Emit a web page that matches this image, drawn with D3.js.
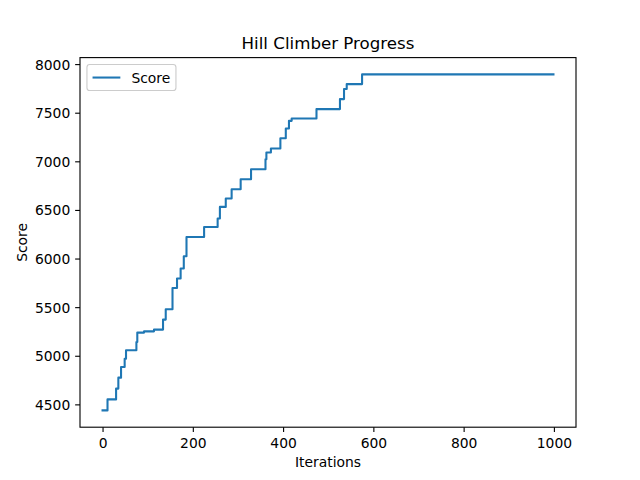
<!DOCTYPE html>
<html>
<head>
<meta charset="utf-8">
<script src="https://cdn.jsdelivr.net/npm/d3@7"></script>
<style>
  html, body { margin: 0; padding: 0; background: #fff; }
  svg { display: block; }
  text { font-family: "DejaVu Sans", sans-serif; fill: #000; }
</style>
</head>
<body>
<svg id="chart" width="640" height="480"></svg>
<script>
// Change points of the hill climber's best score (iteration at which a new best was found)
const iterations = [0, 11, 30, 35, 41, 49, 52, 75, 77, 92, 114, 134, 140, 155, 165, 173, 180, 186,
  225, 255, 260, 273, 286, 306, 329, 361, 363, 373, 394, 406, 413, 419, 474, 526, 535, 541, 575];
const scores = [4438, 4551, 4662, 4775, 4884, 4970, 5056, 5141, 5238, 5251, 5269, 5372, 5478, 5697,
  5794, 5897, 6024, 6222, 6325, 6412, 6531, 6617, 6713, 6816, 6919, 7022, 7091, 7132, 7238, 7338,
  7416, 7441, 7537, 7640, 7743, 7794, 7894];
const lastIteration = 999;
const xTicks = [0, 200, 400, 600, 800, 1000];
const yTicks = [4500, 5000, 5500, 6000, 6500, 7000, 7500, 8000];
const titleText = "Hill Climber Progress";
const xLabel = "Iterations";
const yLabel = "Score";
const seriesName = "Score";

(function () {
const W = 640, H = 480;
const pL = 80, pR = 576, pT = 57.6, pB = 427.2;
const fs = 13.89;
const tickLen = 4.86, pad = 4.86;

const pts = iterations.map((it, i) => ({x: it, y: scores[i]}));
pts.push({x: lastIteration, y: scores[scores.length - 1]});

const xMin = d3.min(pts, d => d.x), xMax = d3.max(pts, d => d.x);
const yMin = d3.min(pts, d => d.y), yMax = d3.max(pts, d => d.y);
const xm = (xMax - xMin) * 0.05, ym = (yMax - yMin) * 0.05;

const x = d3.scaleLinear().domain([xMin - xm, xMax + xm]).range([pL, pR]);
const y = d3.scaleLinear().domain([yMin - ym, yMax + ym]).range([pB, pT]);

const svg = d3.select("#chart");
svg.append("rect").attr("width", W).attr("height", H).attr("fill", "#fff");

// line
const line = d3.line().x(d => x(d.x)).y(d => y(d.y)).curve(d3.curveStepAfter);
svg.append("path").datum(pts)
  .attr("d", line)
  .attr("fill", "none")
  .attr("stroke", "#1f77b4")
  .attr("stroke-width", 2.08)
  .attr("stroke-linejoin", "round")
  .attr("stroke-linecap", "square");

// axes via d3
const xAxis = d3.axisBottom(x).tickValues(xTicks).tickSize(tickLen).tickPadding(pad).tickFormat(d3.format("d"));
const yAxis = d3.axisLeft(y).tickValues(yTicks).tickSize(tickLen).tickPadding(pad).tickFormat(d3.format("d"));

const gx = svg.append("g").attr("transform", `translate(0,${pB})`).call(xAxis);
const gy = svg.append("g").attr("transform", `translate(${pL},0)`).call(yAxis);
[gx, gy].forEach(g => {
  g.select(".domain").remove();
  g.selectAll(".tick line").attr("stroke", "#000").attr("stroke-width", 1.11);
  g.selectAll(".tick text")
    .attr("font-family", "DejaVu Sans, sans-serif")
    .attr("font-size", fs)
    .attr("fill", "#000");
});
gx.selectAll(".tick text").attr("dy", null).attr("y", tickLen + pad + 10.6);
gy.selectAll(".tick text").attr("dy", "0.36em");

// spines
svg.append("rect")
  .attr("x", pL).attr("y", pT)
  .attr("width", pR - pL).attr("height", pB - pT)
  .attr("fill", "none").attr("stroke", "#000").attr("stroke-width", 1.11);

// title & labels
svg.append("text").attr("x", (pL + pR) / 2).attr("y", 49.3)
  .attr("text-anchor", "middle").attr("font-size", 16.67).text(titleText);
svg.append("text").attr("x", (pL + pR) / 2).attr("y", 466.5)
  .attr("text-anchor", "middle").attr("font-size", fs).text(xLabel);
svg.append("text").attr("transform", `translate(26.5,${(pT + pB) / 2}) rotate(-90)`)
  .attr("text-anchor", "middle").attr("font-size", fs).text(yLabel);

// legend
const lg = svg.append("g");
const lx = pL + 0.5 * fs, ly = pT + 0.5 * fs;
lg.append("rect").attr("x", lx).attr("y", ly)
  .attr("width", 89).attr("height", 26)
  .attr("rx", 2.8).attr("ry", 2.8)
  .attr("fill", "#fff").attr("fill-opacity", 0.8)
  .attr("stroke", "#cccccc").attr("stroke-width", 1.11);
lg.append("line")
  .attr("x1", lx + 5.6).attr("x2", lx + 5.6 + 27.8)
  .attr("y1", ly + 13).attr("y2", ly + 13)
  .attr("stroke", "#1f77b4").attr("stroke-width", 2.08);
lg.append("text").attr("x", lx + 5.6 + 27.8 + 11.1).attr("y", ly + 13)
  .attr("dy", "0.36em").attr("font-size", fs).text(seriesName);
})();
</script>
</body>
</html>
